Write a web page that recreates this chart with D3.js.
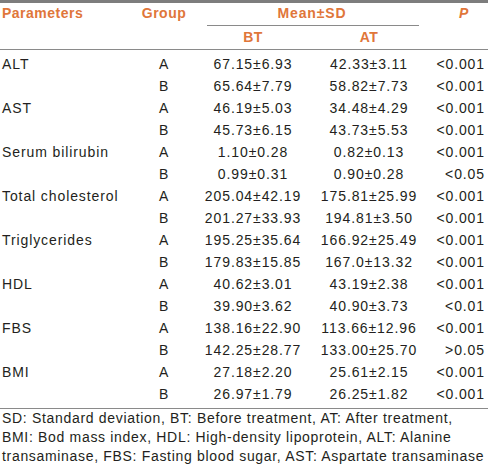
<!DOCTYPE html>
<html>
<head>
<meta charset="utf-8">
<script src="https://cdn.jsdelivr.net/npm/d3@7"></script>
<style>
html,body{margin:0;padding:0;background:#fff;}
svg{display:block;}
text{font-family:"Liberation Sans",Arial,Helvetica,sans-serif;}
</style>
</head>
<body>
<svg id="chart" width="488" height="469"></svg>
<script>
const headers = ["Parameters", "Group", "Mean±SD", "P"];
const subHeaders = ["BT", "AT"];
const parameters = ["ALT", "", "AST", "", "Serum bilirubin", "", "Total cholesterol", "", "Triglycerides", "", "HDL", "", "FBS", "", "BMI", ""];
const groups = ["A", "B", "A", "B", "A", "B", "A", "B", "A", "B", "A", "B", "A", "B", "A", "B"];
const btValues = ["67.15±6.93", "65.64±7.79", "46.19±5.03", "45.73±6.15", "1.10±0.28", "0.99±0.31", "205.04±42.19", "201.27±33.93", "195.25±35.64", "179.83±15.85", "40.62±3.01", "39.90±3.62", "138.16±22.90", "142.25±28.77", "27.18±2.20", "26.97±1.79"];
const atValues = ["42.33±3.11", "58.82±7.73", "34.48±4.29", "43.73±5.53", "0.82±0.13", "0.90±0.28", "175.81±25.99", "194.81±3.50", "166.92±25.49", "167.0±13.32", "43.19±2.38", "40.90±3.73", "113.66±12.96", "133.00±25.70", "25.61±2.15", "26.25±1.82"];
const pValues = ["<0.001", "<0.001", "<0.001", "<0.001", "<0.001", "<0.05", "<0.001", "<0.001", "<0.001", "<0.001", "<0.001", "<0.01", "<0.001", ">0.05", "<0.001", "<0.001"];
const footnotes = [
  "SD: Standard deviation, BT: Before treatment, AT: After treatment,",
  "BMI: Bod mass index, HDL: High-density lipoprotein, ALT: Alanine",
  "transaminase, FBS: Fasting blood sugar, AST: Aspartate transaminase"
];

const svg = d3.select("#chart");
const orange = "#e0763a";
const lineColor = "#8a8a8a";
const textColor = "#231f20";

const rowIdx = d3.range(groups.length);
const y = d3.scalePoint().domain(rowIdx).range([64, 394]);
const fy = d3.scalePoint().domain(d3.range(footnotes.length)).range([418, 456]);

const col = {param: 2, group: 164, bt: 253, at: 369, p: 485, mean: 312, pHead: 464};

svg.append("rect").attr("x", 0).attr("y", 0).attr("width", 488).attr("height", 3).attr("fill", "#7d7d7d");

svg.append("line").attr("x1", 207).attr("x2", 419).attr("y1", 25.5).attr("y2", 25.5).attr("stroke", lineColor).attr("stroke-width", 1);
svg.append("line").attr("x1", 0).attr("x2", 488).attr("y1", 49.5).attr("y2", 49.5).attr("stroke", lineColor).attr("stroke-width", 1.2);
svg.append("line").attr("x1", 0).attr("x2", 488).attr("y1", 408.5).attr("y2", 408.5).attr("stroke", lineColor).attr("stroke-width", 1.2);

const hdr = svg.append("g").attr("fill", orange).attr("font-weight", "bold").attr("font-size", 14).attr("letter-spacing", "0.5px");
hdr.append("text").attr("x", col.param).attr("y", 13).attr("dy", "0.35em").text(headers[0]);
hdr.append("text").attr("x", col.group).attr("y", 13).attr("dy", "0.35em").attr("text-anchor", "middle").text(headers[1]);
hdr.append("text").attr("x", col.mean).attr("y", 13).attr("dy", "0.35em").attr("text-anchor", "middle").attr("letter-spacing", "0.9px").text(headers[2]);
hdr.append("text").attr("x", col.pHead).attr("y", 13).attr("dy", "0.35em").attr("text-anchor", "middle").attr("font-style", "italic").text(headers[3]);
hdr.append("text").attr("x", col.bt).attr("y", 37).attr("dy", "0.35em").attr("text-anchor", "middle").text(subHeaders[0]);
hdr.append("text").attr("x", col.at).attr("y", 37).attr("dy", "0.35em").attr("text-anchor", "middle").text(subHeaders[1]);

const body = svg.append("g").attr("fill", textColor).attr("font-size", 14).attr("letter-spacing", "0.9px");
const rows = body.selectAll("g.row").data(rowIdx).join("g").attr("class", "row")
  .attr("transform", i => `translate(0,${y(i)})`);
rows.append("text").attr("x", col.param).attr("dy", "0.35em").text(i => parameters[i]);
rows.append("text").attr("x", col.group).attr("dy", "0.35em").attr("text-anchor", "middle").text(i => groups[i]);
rows.append("text").attr("x", col.bt).attr("dy", "0.35em").attr("text-anchor", "middle").text(i => btValues[i]);
rows.append("text").attr("x", col.at).attr("dy", "0.35em").attr("text-anchor", "middle").text(i => atValues[i]);
rows.append("text").attr("x", col.p).attr("dy", "0.35em").attr("text-anchor", "end").text(i => pValues[i]);

svg.append("g").attr("fill", textColor).attr("font-size", 14).attr("letter-spacing", "0.68px")
  .selectAll("text").data(footnotes).join("text")
  .attr("x", 2).attr("y", (d, i) => fy(i)).attr("dy", "0.35em").text(d => d);
</script>
</body>
</html>
